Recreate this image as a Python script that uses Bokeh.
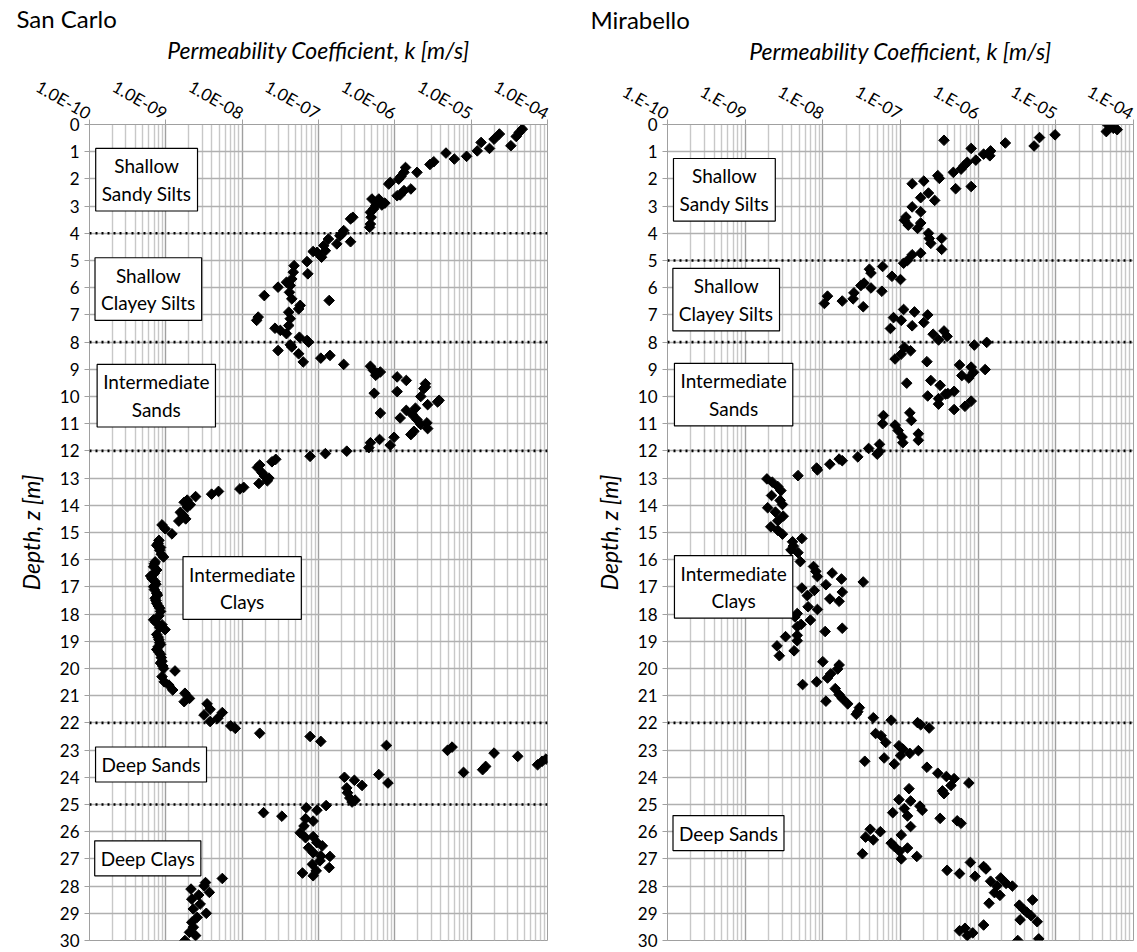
import numpy as np
from bokeh.plotting import figure
from bokeh.layouts import row
from bokeh.models import (Range1d, FixedTicker, CustomJSTickFormatter, Span, Label,
                          ColumnDataSource)
from bokeh.embed import file_html
from bokeh.resources import INLINE

FONT = "Lato"

# ---------------- data ----------------
# San Carlo: depth [m] and log10 of permeability k [m/s]
sc_depth = [0.17, 0.29, 0.44, 0.78, 0.35, 0.54, 0.88, 0.66, 0.97, 1.17, 1.27, 1.05, 1.37, 1.47, 1.76,
            1.58, 1.76, 1.91, 2.01, 2.13, 2.19, 2.37, 2.43, 2.59, 2.62, 2.89, 2.96, 2.74, 2.98, 3.11,
            2.74, 3.23, 3.41, 3.66, 3.78, 3.41, 3.47, 3.90, 4.02, 4.09, 4.39, 4.31, 4.21, 4.45, 4.64,
            4.88, 4.70, 4.67, 5.04, 5.49, 5.19, 5.43, 5.68, 5.80, 5.92, 5.98, 6.17, 6.41, 6.65, 6.78,
            6.29, 6.47, 6.90, 7.14, 7.08, 7.20, 7.49, 7.57, 7.39, 7.69, 7.82, 7.94, 8.00, 8.10, 8.18,
            8.31, 8.43, 8.73, 8.59, 8.49, 8.82, 8.89, 9.04, 9.16, 9.10, 9.22, 9.28, 9.41, 9.53, 9.65,
            9.71, 9.88, 10.61, 9.82, 10.00, 10.14, 10.20, 10.30, 10.43, 10.51, 10.79, 10.67, 10.85,
            11.03, 10.97, 11.18, 11.28, 11.40, 11.50, 11.58, 11.79, 11.70, 11.88, 12.01, 12.10, 12.20,
            12.31, 12.40, 12.52, 12.61, 12.80, 12.92, 13.00, 13.10, 13.20, 13.34, 13.40, 13.49, 13.59,
            13.68, 13.81, 13.89, 14.07, 13.98, 14.26, 14.38, 14.50, 14.58, 14.72, 14.86, 15.05, 15.29,
            15.47, 15.65, 15.90, 16.08, 16.26, 16.38, 16.60, 16.81, 16.99, 17.23, 17.42, 17.60, 17.78,
            17.90, 18.21, 18.06, 18.39, 18.57, 18.75, 18.94, 19.12, 19.30, 19.48, 19.73, 19.91, 20.09,
            15.40, 15.55, 15.80, 16.15, 16.50, 16.70, 16.90, 17.10, 17.30, 17.50, 17.70, 18.30, 18.50,
            18.85, 19.05, 19.20, 19.40, 19.60, 19.80,
            20.00, 20.30, 20.49, 20.61, 20.79, 20.91, 21.10, 21.22, 21.30, 21.50, 21.71, 21.95, 21.62,
            21.83, 22.11, 22.20, 22.38, 22.50, 22.68, 22.83, 23.01, 22.89, 23.11, 23.23, 23.82, 23.72,
            23.60, 23.54, 23.41, 23.33, 24.00, 24.11, 24.30, 23.90, 24.21, 24.39, 24.57, 24.76, 24.84,
            24.91, 25.04, 25.21, 25.12, 25.30, 25.43, 25.52, 25.61, 25.79, 26.04, 26.22, 26.18, 26.40,
            26.52, 26.59, 26.77, 26.91, 26.89, 27.07, 27.20, 27.52, 27.62, 27.44, 27.32, 27.72, 27.87,
            27.99, 28.11, 28.23, 28.33, 28.48, 28.66, 28.84, 29.00, 29.15, 29.33, 29.51, 29.70, 29.82,
            30.00]
sc_log10k = [-4.33, -4.37, -4.41, -4.48, -4.63, -4.70, -4.76, -4.87, -4.92, -5.06, -5.22, -5.33, -5.49,
             -5.54, -5.71, -5.86, -5.88, -5.92, -5.95, -6.06, -6.08, -5.79, -5.88, -5.93, -5.97, -6.13,
             -6.17, -6.21, -6.25, -6.28, -6.30, -6.32, -6.31, -6.32, -6.33, -6.55, -6.58, -6.67, -6.69,
             -6.72, -6.76, -6.58, -6.87, -6.93, -6.91, -6.96, -7.02, -7.07, -7.15, -7.14, -7.32, -7.33,
             -7.35, -7.42, -7.37, -7.53, -7.38, -7.35, -7.24, -7.26, -7.71, -6.86, -7.39, -7.37, -7.79,
             -7.81, -7.57, -7.50, -7.39, -7.42, -7.25, -7.15, -7.13, -7.37, -7.35, -7.53, -7.26, -7.20,
             -6.97, -6.85, -6.67, -6.32, -6.28, -6.23, -6.19, -6.25, -5.97, -5.85, -5.60, -5.60, -5.62,
             -6.27, -6.19, -5.97, -5.66, -5.42, -5.44, -5.57, -5.73, -5.85, -5.93, -5.77, -5.71, -5.66,
             -5.58, -5.57, -5.75, -5.79, -6.01, -6.20, -6.06, -6.32, -6.34, -6.63, -6.91, -7.11, -7.56,
             -7.61, -7.77, -7.80, -7.74, -7.71, -7.65, -7.67, -7.78, -7.98, -8.03, -8.31, -8.40, -8.61,
             -8.72, -8.76, -8.72, -8.68, -8.81, -8.77, -8.74, -8.83, -9.05, -9.01, -8.92, -9.09, -9.12,
             -9.08, -9.03, -9.14, -9.16, -9.12, -9.20, -9.14, -9.16, -9.12, -9.14, -9.12, -9.08, -9.07,
             -9.16, -9.09, -9.05, -9.01, -9.12, -9.09, -9.07, -9.12, -9.07, -9.05, -9.04, -8.88,
             -9.10, -9.07, -9.06, -9.15, -9.15, -9.18, -9.13, -9.15, -9.11, -9.13, -9.10, -9.13, -9.08,
             -9.10, -9.08, -9.10, -9.09, -9.06, -9.07,
             -9.03, -9.05, -9.02, -8.96, -8.91, -8.75, -8.69, -8.76, -8.46, -8.42, -8.50, -8.42, -8.26,
             -8.32, -8.15, -8.09, -7.77, -7.11, -6.97, -6.11, -5.31, -5.25, -4.70, -4.39, -5.10, -4.85,
             -4.81, -4.13, -4.07, -4.02, -6.66, -6.53, -6.43, -6.21, -6.09, -6.63, -6.62, -6.59, -6.52,
             -6.56, -6.90, -7.02, -7.16, -7.72, -7.48, -7.17, -7.07, -7.19, -7.24, -7.17, -7.07, -7.02,
             -6.95, -7.13, -7.07, -6.85, -6.97, -6.98, -7.08, -7.21, -7.07, -7.03, -6.86, -8.26, -8.48,
             -8.50, -8.67, -8.43, -8.57, -8.66, -8.55, -8.64, -8.47, -8.59, -8.66, -8.64, -8.69, -8.61,
             -8.75]

# Mirabello: depth [m] and log10 of permeability k [m/s]
mb_depth = [0.02, 0.14, 0.26, 0.19, 0.38, 0.48, 0.79, 0.58, 0.68, 0.88, 0.97, 1.15, 1.09, 1.31, 1.39,
            1.51, 1.64, 1.76, 1.88, 1.98, 2.36, 2.28, 2.08, 2.18, 2.52, 2.79, 2.69, 3.03, 3.21, 3.40,
            3.52, 3.70, 3.82, 3.62, 4.00, 4.19, 4.37, 4.19, 4.59, 4.73, 4.79, 5.00, 5.10, 5.22, 5.32,
            5.46, 5.58, 5.70, 5.83, 5.92, 6.01, 6.13, 6.19, 6.41, 6.49, 6.31, 6.58, 6.70, 6.80, 6.89,
            7.00, 7.10, 7.20, 7.50, 7.40, 7.28, 7.71, 7.59, 7.79, 7.92, 8.11, 8.01, 8.19, 8.44, 8.32,
            8.62, 8.72, 8.84, 9.01, 8.92, 9.11, 9.23, 9.32, 9.51, 9.41, 9.59, 9.89, 9.81, 9.91, 9.98,
            10.08, 10.17, 10.28, 10.48, 10.36, 10.70, 11.00, 10.60, 10.88, 11.05, 11.25, 11.49, 11.70,
            11.37, 11.61, 11.76, 12.02, 12.12, 11.91, 12.22, 12.36, 12.30, 12.49, 12.70, 12.63, 12.91,
            13.03, 13.15, 13.31, 13.46, 13.64, 13.82, 13.97, 14.09, 14.25, 14.40, 14.57, 14.79, 14.92,
            15.06, 15.22, 15.34, 15.50, 15.64, 15.74, 16.07, 16.25, 16.43, 16.62, 16.49, 16.71, 16.82,
            16.92, 17.04, 17.13, 17.19, 17.32, 17.44, 17.53, 17.73, 17.83, 17.98, 18.10, 18.22, 18.38,
            18.46, 18.52, 18.64, 18.83, 18.78, 18.98, 19.17, 19.35, 19.53, 19.75, 19.87, 20.02, 20.20,
            20.35, 20.59, 20.49, 21.20, 20.74, 20.96, 21.10, 21.30, 21.44, 21.59, 21.68, 21.81, 21.90,
            21.99, 22.07, 22.19, 22.39, 22.47, 22.72, 22.84, 22.96, 23.20, 23.12, 23.02, 23.41, 23.29,
            23.51, 23.63, 23.85, 23.97, 24.05, 24.30, 24.50, 24.60, 24.21, 24.42, 24.82, 24.87, 25.15,
            25.06, 25.21, 25.30, 25.42, 25.81, 25.51, 25.60, 25.69, 25.91, 26.00, 26.20, 26.30, 26.12,
            26.42, 26.54, 26.72, 26.60, 27.00, 26.91, 26.81, 27.42, 27.54, 27.13, 27.64, 27.28, 27.37,
            27.82, 27.70, 27.90, 28.00, 28.00, 28.24, 28.34, 28.63, 29.43, 28.70, 28.87, 28.97, 28.51,
            29.09, 29.31, 29.24, 29.64, 29.55, 29.82, 29.72, 30.00, 29.94]
mb_log10k = [-4.33, -4.26, -4.35, -4.21, -5.01, -5.21, -5.28, -6.44, -5.65, -6.09, -5.84, -5.85, -5.93,
             -6.03, -6.14, -6.18, -6.22, -6.32, -6.52, -6.50, -6.29, -6.09, -6.70, -6.85, -6.64, -6.56,
             -6.74, -6.85, -6.74, -6.93, -6.95, -6.90, -6.78, -6.74, -6.64, -6.63, -6.61, -6.47, -6.47,
             -6.74, -6.85, -6.91, -6.96, -7.23, -7.40, -7.38, -7.11, -7.00, -7.47, -7.51, -7.38, -7.24,
             -7.60, -7.61, -7.75, -7.94, -7.98, -7.48, -6.96, -6.82, -6.65, -7.09, -6.99, -7.13, -6.85,
             -6.70, -6.58, -6.44, -6.40, -6.51, -6.05, -5.89, -6.95, -6.99, -6.87, -7.07, -6.66, -6.24,
             -5.91, -6.09, -6.06, -6.21, -6.12, -6.92, -6.61, -6.49, -6.39, -6.31, -6.42, -6.65, -6.51,
             -6.09, -6.51, -6.31, -6.17, -7.22, -7.23, -6.88, -6.86, -7.07, -7.03, -6.98, -6.97, -6.77,
             -6.77, -7.27, -7.27, -7.30, -7.41, -7.55, -7.75, -7.79, -7.91, -8.07, -8.08, -8.32, -8.72,
             -8.65, -8.58, -8.54, -8.66, -8.55, -8.52, -8.71, -8.61, -8.51, -8.58, -8.67, -8.58, -8.52,
             -8.27, -8.39, -8.38, -8.41, -8.32, -8.29, -8.12, -8.09, -8.07, -7.88, -7.76, -7.48, -7.96,
             -8.27, -8.11, -7.75, -8.20, -7.91, -7.79, -8.19, -8.07, -8.33, -8.36, -8.16, -8.28, -8.33,
             -7.75, -7.97, -8.48, -8.33, -8.33, -8.59, -8.37, -8.56, -8.00, -7.79, -7.81, -7.90, -7.94,
             -8.26, -8.08, -7.96, -7.84, -7.79, -7.75, -7.68, -7.53, -7.55, -7.57, -7.35, -7.12, -6.78,
             -6.74, -6.63, -7.32, -7.25, -7.19, -7.02, -6.97, -7.00, -6.88, -6.77, -7.46, -7.21, -7.08,
             -6.66, -6.52, -6.41, -6.31, -6.35, -6.46, -6.44, -6.12, -6.89, -7.02, -6.87, -6.95, -6.75,
             -6.72, -7.10, -6.91, -6.87, -6.49, -6.27, -6.22, -7.39, -7.26, -7.45, -7.35, -6.99, -7.12,
             -7.08, -7.01, -6.91, -6.99, -6.79, -7.49, -6.40, -6.24, -6.10, -6.04, -5.93, -5.90, -5.84,
             -5.71, -5.64, -5.56, -5.76, -5.79, -5.72, -5.86, -5.93, -5.47, -5.41, -5.37, -5.30, -5.32,
             -5.24, -5.46, -6.24, -6.17, -6.14, -6.07, -5.49, -5.22]

# tick labels of the two permeability axes
decades = [1e-10, 1e-9, 1e-8, 1e-7, 1e-6, 1e-5, 1e-4]
sc_tick_labels = ["1.0E-10", "1.0E-09", "1.0E-08", "1.0E-07", "1.0E-06", "1.0E-05", "1.0E-04"]
mb_tick_labels = ["1.E-10", "1.E-09", "1.E-08", "1.E-07", "1.E-06", "1.E-05", "1.E-04"]
depth_ticks = list(range(0, 31))

# layer boundaries (dotted lines), depth [m]
sc_boundaries = [4, 8, 12, 22, 25]
mb_boundaries = [5, 8, 12, 22]

# layer labels: text, k position, depth
sc_layers = [("Shallow\nSandy Silts", 5.6e-10, 2.03),
             ("Shallow\nClayey Silts", 5.9e-10, 6.05),
             ("Intermediate\nSands", 7.5e-10, 9.97),
             ("Intermediate\nClays", 1.0e-8, 17.04),
             ("Deep Sands", 6.4e-10, 23.53),
             ("Deep Clays", 5.8e-10, 26.98)]
mb_layers = [("Shallow\nSandy Silts", 5.4e-10, 2.40),
             ("Shallow\nClayey Silts", 5.7e-10, 6.44),
             ("Intermediate\nSands", 7.1e-10, 9.93),
             ("Intermediate\nClays", 7.1e-10, 17.0),
             ("Deep Sands", 6.1e-10, 26.05)]

minor_ticks = [m * d for d in decades[:-1] for m in range(2, 10)]

MAJOR = "#a0a0a0"
MINOR = "#c8c8c8"
HGRID = "#b0b0b0"


def make_panel(title, depth, log10k, tick_labels, boundaries, layers,
               width, border_left, border_right, title_offset, xlabel_standoff):
    p = figure(width=width, height=952, x_axis_type="log",
               x_range=Range1d(1e-10, 1e-4), y_range=Range1d(30, 0),
               x_axis_location="above", output_backend="svg", toolbar_location=None,
               min_border_left=border_left, min_border_right=border_right,
               min_border_top=124, min_border_bottom=12)
    p.background_fill_color = "white"
    p.outline_line_color = MAJOR

    p.title.text = title
    p.title.align = "left"
    p.title.offset = title_offset
    p.title.text_font = FONT
    p.title.text_font_size = "24px"
    p.title.text_font_style = "normal"
    p.title.text_color = "black"
    p.title.standoff = 0

    xa = p.xaxis[0]
    xa.ticker = FixedTicker(ticks=decades, minor_ticks=minor_ticks)
    xa.formatter = CustomJSTickFormatter(
        args=dict(labels=tick_labels),
        code="const i = Math.round(Math.log10(tick)) + 10;"
             "return (i >= 0 && i < labels.length) ? labels[i] : '';")
    xa.major_label_orientation = -0.52
    xa.major_label_text_font_size = "17px"
    xa.major_label_standoff = 5
    xa.axis_label = "Permeability Coefficient, k [m/s]"
    xa.axis_label_text_font_style = "italic"
    xa.axis_label_standoff = xlabel_standoff

    ya = p.yaxis[0]
    ya.ticker = FixedTicker(ticks=depth_ticks)
    ya.major_label_text_font_size = "17px"
    ya.major_label_standoff = 5
    ya.axis_label = "Depth, z [m]"
    ya.axis_label_text_font_style = "italic"
    ya.axis_label_standoff = 12

    for ax in (xa, ya):
        ax.axis_label_text_font = FONT
        ax.axis_label_text_font_size = "23px"
        ax.axis_label_text_color = "black"
        ax.major_label_text_font = FONT
        ax.major_label_text_color = "black"
        ax.axis_line_color = MAJOR
        ax.major_tick_line_color = MAJOR
        ax.major_tick_out = 5
        ax.major_tick_in = 0
        ax.minor_tick_line_color = None

    p.xgrid.grid_line_color = MAJOR
    p.xgrid.grid_line_width = 1.4
    p.xgrid.minor_grid_line_color = MINOR
    p.xgrid.minor_grid_line_width = 1.4
    p.ygrid.grid_line_color = HGRID
    p.ygrid.grid_line_width = 1.4

    for b in boundaries:
        p.add_layout(Span(location=b, dimension="width", line_color="black",
                          line_width=2.6, line_dash="2 4"))

    src = ColumnDataSource(dict(k=[10.0 ** v for v in log10k], depth=depth))
    p.scatter(x="k", y="depth", source=src, marker="square", angle=np.pi / 4,
              size=7.5, fill_color="black", line_color="black")

    for text, kx, dz in layers:
        p.add_layout(Label(x=kx, y=dz, text=text, text_align="center",
                           text_baseline="middle", text_font=FONT,
                           text_font_size="19px", text_color="black",
                           background_fill_color="white",
                           border_line_color="black", border_line_width=1.2,
                           padding=6))
    return p


p1 = make_panel("San Carlo", sc_depth, sc_log10k, sc_tick_labels, sc_boundaries, sc_layers,
                width=578, border_left=89, border_right=31, title_offset=-73,
                xlabel_standoff=0)
p2 = make_panel("Mirabello", mb_depth, mb_log10k, mb_tick_labels, mb_boundaries, mb_layers,
                width=559, border_left=89, border_right=4, title_offset=-77,
                xlabel_standoff=4)

layout = row(p1, p2)
open("out.html", "w").write(file_html(layout, INLINE))
